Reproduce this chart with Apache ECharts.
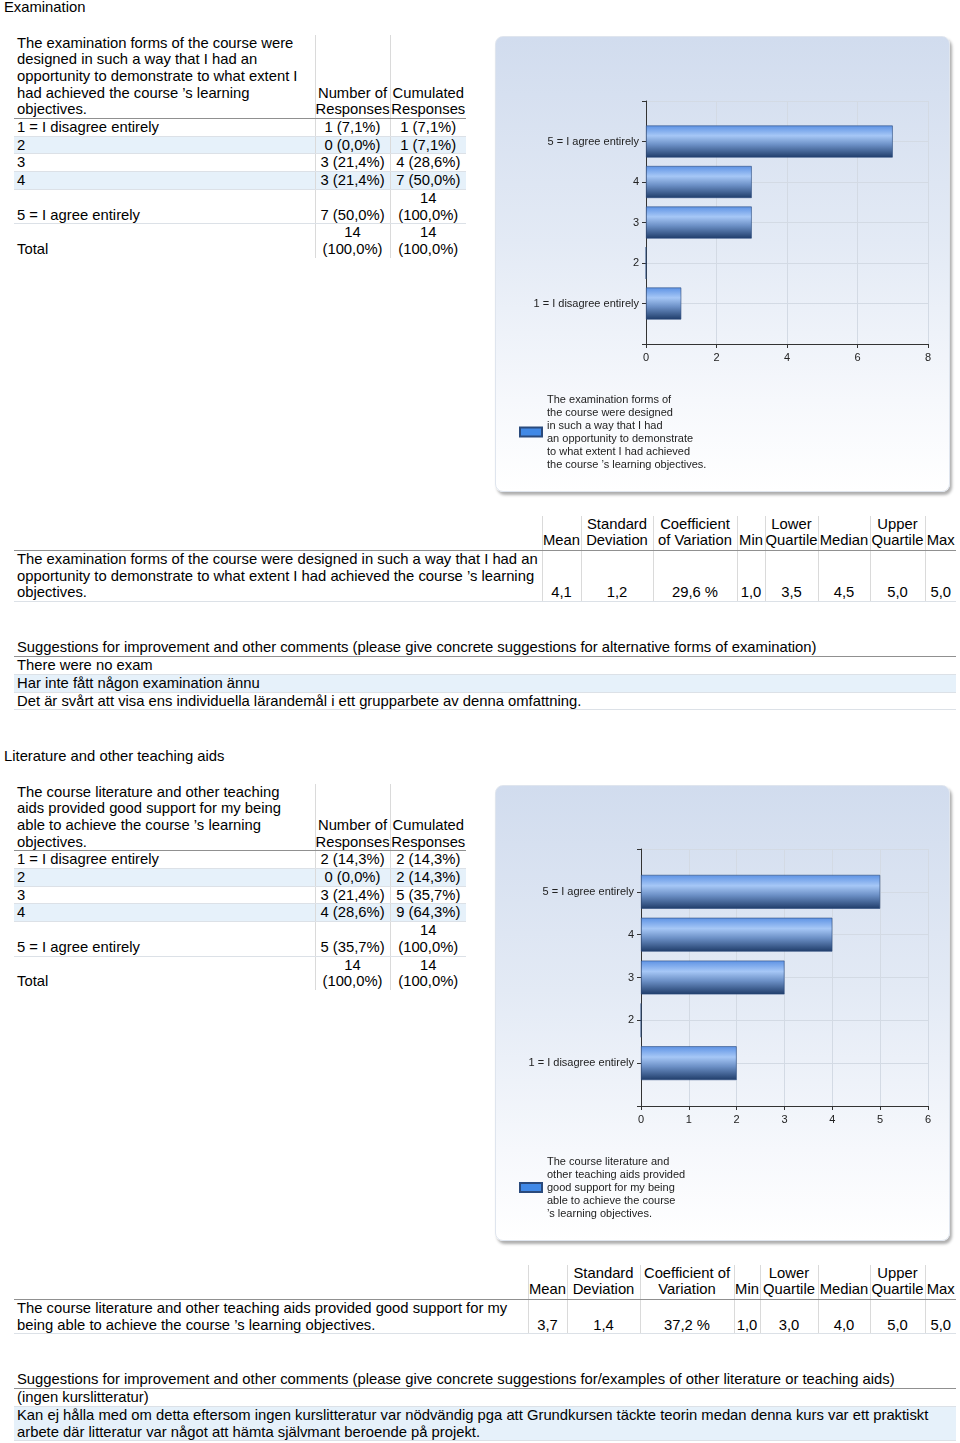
<!DOCTYPE html>
<html>
<head>
<meta charset="utf-8">
<script src="https://cdn.jsdelivr.net/npm/echarts@6/dist/echarts.min.js"></script>
<style>
body{margin:0;background:#fff;font-family:Arial,"Liberation Sans",sans-serif;font-size:14.8px;color:#000;}
.abs{position:absolute;}
table{border-collapse:collapse;table-layout:fixed;}
td{padding:0;line-height:16.7px;vertical-align:bottom;white-space:nowrap;}
td.l{text-align:left;padding-left:3px;}
td.c{text-align:center;}
tr.hdr td{border-bottom:1px solid #909090;padding-bottom:1px;}
table.freq tr.hdr td{padding-bottom:0;}
tr.row td{border-bottom:1px solid #dce1e7;}
tr.shade td{background:#e6f1fa;}
td.vl{border-left:1px solid #dadada;}
.panel{position:absolute;left:495px;width:455px;height:456px;border-radius:8px;
  background:linear-gradient(to bottom,#d1dcee 0%,#e3eaf5 45%,#f6f8fc 80%,#ffffff 100%);
  box-shadow:2px 3px 3px rgba(0,0,0,0.32);border:1px solid #dfe5ee;box-sizing:border-box;}
.chart{position:absolute;left:0;top:0;width:100%;height:100%;}
</style>
</head>
<body>
<div id="page"></div>
<div class="panel" style="top:36px"><div id="chart1" class="chart"></div></div>
<div class="panel" style="top:785px"><div id="chart2" class="chart"></div></div>
<script>
// ---------- data ----------
const categories = ['1 = I disagree entirely', '2', '3', '4', '5 = I agree entirely'];

const examTitle = 'Examination';
const examQuestionHeader = 'The examination forms of the course were\ndesigned in such a way that I had an\nopportunity to demonstrate to what extent I\nhad achieved the course \u2019s learning\nobjectives.';
const examQuestionStats = 'The examination forms of the course were designed in such a way that I had an\nopportunity to demonstrate to what extent I had achieved the course \u2019s learning\nobjectives.';
const examLegend = 'The examination forms of\nthe course were designed\nin such a way that I had\nan opportunity to demonstrate\nto what extent I had achieved\nthe course \u2019s learning objectives.';
const examCounts = [1, 0, 3, 3, 7];
const examCountLabels = ['1 (7,1%)', '0 (0,0%)', '3 (21,4%)', '3 (21,4%)', '7 (50,0%)'];
const examCumLabels = ['1 (7,1%)', '1 (7,1%)', '4 (28,6%)', '7 (50,0%)', '14\n(100,0%)'];
const examTotal = ['14\n(100,0%)', '14\n(100,0%)'];
const examStatHeaders = ['Mean', 'Standard\nDeviation', 'Coefficient\nof Variation', 'Min', 'Lower\nQuartile', 'Median', 'Upper\nQuartile', 'Max'];
const examStats = ['4,1', '1,2', '29,6 %', '1,0', '3,5', '4,5', '5,0', '5,0'];
const examCommentHeader = 'Suggestions for improvement and other comments (please give concrete suggestions for alternative forms of examination)';
const examComments = ['There were no exam', 'Har inte fått någon examination ännu', 'Det är svårt att visa ens individuella lärandemål i ett grupparbete av denna omfattning.'];
const examXTicks = [0, 8, 2];

const litTitle = 'Literature and other teaching aids';
const litQuestionHeader = 'The course literature and other teaching\naids provided good support for my being\nable to achieve the course \u2019s learning\nobjectives.';
const litQuestionStats = 'The course literature and other teaching aids provided good support for my\nbeing able to achieve the course \u2019s learning objectives.';
const litLegend = 'The course literature and\nother teaching aids provided\ngood support for my being\nable to achieve the course\n\u2019s learning objectives.';
const litCounts = [2, 0, 3, 4, 5];
const litCountLabels = ['2 (14,3%)', '0 (0,0%)', '3 (21,4%)', '4 (28,6%)', '5 (35,7%)'];
const litCumLabels = ['2 (14,3%)', '2 (14,3%)', '5 (35,7%)', '9 (64,3%)', '14\n(100,0%)'];
const litTotal = ['14\n(100,0%)', '14\n(100,0%)'];
const litStatHeaders = ['Mean', 'Standard\nDeviation', 'Coefficient of\nVariation', 'Min', 'Lower\nQuartile', 'Median', 'Upper\nQuartile', 'Max'];
const litStats = ['3,7', '1,4', '37,2 %', '1,0', '3,0', '4,0', '5,0', '5,0'];
const litCommentHeader = 'Suggestions for improvement and other comments (please give concrete suggestions for/examples of other literature or teaching aids)';
const litComments = ['(ingen kurslitteratur)', 'Kan ej hålla med om detta eftersom ingen kurslitteratur var nödvändig pga att Grundkursen täckte teorin medan denna kurs var ett praktiskt\narbete där litteratur var något att hämta självmant beroende på projekt.'];
const litXTicks = [0, 6, 1];

const freqHeaders = ['Number of\nResponses', 'Cumulated\nResponses'];
const totalLabel = 'Total';

// ---------- html builders ----------
function nl(s) { return s.replace(/\n/g, '<br>'); }

function title(top, text) {
  return '<div class="abs" style="left:4px;top:' + top + 'px;line-height:16.7px">' + text + '</div>';
}

function freqTable(top, q, countLabels, cumLabels, total) {
  let h = '<table class="abs freq" style="left:14px;top:' + top + 'px;width:452px">';
  h += '<colgroup><col style="width:301px"><col style="width:75px"><col style="width:76px"></colgroup>';
  h += '<tr class="hdr"><td class="l">' + nl(q) + '</td><td class="c vl">' + nl(freqHeaders[0]) + '</td><td class="c vl">' + nl(freqHeaders[1]) + '</td></tr>';
  categories.forEach(function (cat, i) {
    h += '<tr class="row' + (i % 2 === 1 ? ' shade' : '') + '"><td class="l">' + cat + '</td><td class="c vl">' + nl(countLabels[i]) + '</td><td class="c vl">' + nl(cumLabels[i]) + '</td></tr>';
  });
  h += '<tr><td class="l">' + totalLabel + '</td><td class="c vl">' + nl(total[0]) + '</td><td class="c vl">' + nl(total[1]) + '</td></tr>';
  h += '</table>';
  return h;
}

function statTable(top, q, headers, stats, widths) {
  let h = '<table class="abs" style="left:14px;top:' + top + 'px;width:942px"><colgroup>';
  widths.forEach(function (w) { h += '<col style="width:' + w + 'px">'; });
  h += '</colgroup><tr class="hdr"><td></td>';
  headers.forEach(function (t) { h += '<td class="c vl">' + nl(t) + '</td>'; });
  h += '</tr><tr class="row"><td class="l">' + nl(q) + '</td>';
  stats.forEach(function (t) { h += '<td class="c vl">' + t + '</td>'; });
  h += '</tr></table>';
  return h;
}

function commentTable(top, header, comments) {
  let h = '<table class="abs" style="left:14px;top:' + top + 'px;width:942px">';
  h += '<tr class="hdr"><td class="l">' + header + '</td></tr>';
  comments.forEach(function (c, i) {
    h += '<tr class="row' + (i % 2 === 1 ? ' shade' : '') + '"><td class="l">' + nl(c) + '</td></tr>';
  });
  h += '</table>';
  return h;
}

let html = '';
html += title(-1, examTitle);
html += freqTable(34.5, examQuestionHeader, examCountLabels, examCumLabels, examTotal);
html += statTable(515.5, examQuestionStats, examStatHeaders, examStats, [528, 39, 72, 84, 28, 53, 52, 55, 31]);
html += commentTable(638.5, examCommentHeader, examComments);
html += title(747.5, litTitle);
html += freqTable(783.5, litQuestionHeader, litCountLabels, litCumLabels, litTotal);
html += statTable(1264.5, litQuestionStats, litStatHeaders, litStats, [514, 39, 73, 94, 26, 58, 52, 55, 31]);
html += commentTable(1370.5, litCommentHeader, litComments);
document.getElementById('page').innerHTML = html;

// ---------- charts ----------
function barGradient() {
  return new echarts.graphic.LinearGradient(0, 0, 0, 1, [
    { offset: 0, color: '#5d92e4' },
    { offset: 0.32, color: '#a6c7f6' },
    { offset: 0.6, color: '#6c90c6' },
    { offset: 1, color: '#1f3c69' }
  ]);
}

function makeChart(id, seriesName, counts, xTicks, legendText, grid, legendTop) {
  const chart = echarts.init(document.getElementById(id), null, { renderer: 'canvas' });
  const yData = [''].concat(categories, ['']);
  const barData = [null].concat(counts, [null]);
  chart.setOption({
    animation: false,
    backgroundColor: 'transparent',
    textStyle: { fontFamily: 'Arial, "Liberation Sans", sans-serif' },
    grid: grid,
    xAxis: {
      type: 'value', min: xTicks[0], max: xTicks[1], interval: xTicks[2],
      axisLine: { show: true, lineStyle: { color: '#333', width: 1 } },
      axisTick: { show: true, length: 4, lineStyle: { color: '#333' } },
      axisLabel: { color: '#222', fontSize: 11, margin: 8 },
      splitLine: { show: true, lineStyle: { color: '#d3dae4' } }
    },
    yAxis: {
      type: 'category', data: yData, boundaryGap: false,
      axisLine: { show: true, onZero: false, lineStyle: { color: '#333', width: 1 } },
      axisTick: { show: true, length: 4, interval: 0, lineStyle: { color: '#333' } },
      axisLabel: { color: '#222', fontSize: 11, margin: 7, interval: 0 },
      splitLine: { show: true, interval: 0, lineStyle: { color: '#d3dae4' } }
    },
    legend: {
      data: [{ name: seriesName, itemStyle: { color: '#4189e6' } }],
      left: 23, top: legendTop, orient: 'vertical', padding: 0,
      icon: 'rect', itemWidth: 22, itemHeight: 9, itemGap: 0,
      formatter: function () { return legendText; },
      textStyle: { fontSize: 11, lineHeight: 13, color: '#222' }
    },
    series: [{
      type: 'bar', name: seriesName, data: barData, barWidth: '79%',
      itemStyle: { color: barGradient(), borderColor: '#2a4a7c', borderWidth: 0.6 }
    }]
  });
}

makeChart('chart1', examQuestionHeader.replace(/\n/g, ' '), examCounts, examXTicks, examLegend,
  { left: 150, top: 64, width: 282, height: 243 }, 356);
makeChart('chart2', litQuestionHeader.replace(/\n/g, ' '), litCounts, litXTicks, litLegend,
  { left: 145, top: 63, width: 287, height: 257 }, 369);
</script>
</body>
</html>
